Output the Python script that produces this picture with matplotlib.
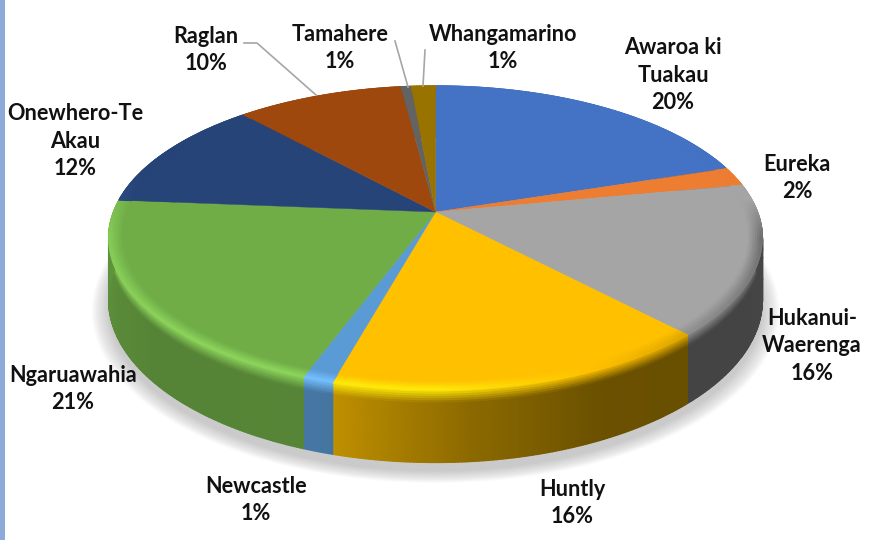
"""3D style pie of population share by ward."""
import numpy as np
import matplotlib
matplotlib.use('Agg')
import matplotlib.pyplot as plt
from matplotlib.collections import PolyCollection
from matplotlib.colors import to_rgb

names = ['Awaroa ki\nTuakau', 'Eureka', 'Hukanui-\nWaerenga', 'Huntly', 'Newcastle',
         'Ngaruawahia', 'Onewhero-Te\nAkau', 'Raglan', 'Tamahere', 'Whangamarino']
values = [20.0, 2.0, 16.0, 16.3, 1.3, 20.7, 12.0, 9.7, 0.6, 1.4]
colors = ['#4472C4', '#ED7D31', '#A5A5A5', '#FFC000', '#5B9BD5',
          '#70AD47', '#264478', '#9E480E', '#636363', '#997300']
label_x = [673, 797, 812, 572, 256, 73, 75, 206, 340, 503]
label_y = [75, 178, 346, 503, 500, 389, 141, 50, 48, 48]

CX, CY = 435.5, 212
A, B, K = 322, 147.6, 0.171
DEPTH = 60
BEVEL_R = 0.96
BEVEL_D = 11


def project(r, theta, depth=0.0):
    x = r * np.sin(theta)
    y = r * np.cos(theta)
    w = 1 / (1 + K * y)
    return CX + A * x * w, CY - B * y * w + depth * w


def side_shade(deg):
    return np.interp(deg, [0, 90, 140, 155, 175, 198, 230, 270, 300, 360],
                     [.42, .42, .41, .42, .55, .77, .76, .85, .8, .8])


def rim_light(deg):
    return np.interp(deg, [0, 85, 100, 140, 180, 220, 262, 285, 360],
                     [0, 0, -.35, -.12, .18, .18, .14, 0, 0])


def rim_color(base, deg):
    h = rim_light(deg)
    if h >= 0:
        return np.clip(base * (1 + h) + h * .2, 0, 1)
    return base * (1 + h)


def band_quads(theta, p0, p1):
    x0, y0 = p0
    x1, y1 = p1
    return [[(x0[i], y0[i]), (x0[i + 1], y0[i + 1]), (x1[i + 1], y1[i + 1]), (x1[i], y1[i])]
            for i in range(len(theta) - 1)]


fig = plt.figure(figsize=(8.74, 5.4), dpi=100)
ax = fig.add_axes([0, 0, 1, 1])
ax.set_xlim(0, 874)
ax.set_ylim(540, 0)
ax.axis('off')

ax.fill_between([0, 4.5], 0, 540, color='#8EAADB', lw=0)

# soft shadow under the pie
circle = np.linspace(0, 2 * np.pi, 361)
for grow in np.linspace(1.05, 1.0, 16):
    sx, sy = project(grow, circle, DEPTH + 4)
    ax.fill(sx, sy + 4, color='#7f7f7f', alpha=0.028, lw=0, zorder=1)

edges = np.cumsum([0] + values) / sum(values) * 2 * np.pi

# outer wall, the top covers the part that faces away
wall_steps = np.concatenate([np.linspace(0, BEVEL_D, 7), np.linspace(BEVEL_D + 8, DEPTH, 3)])
for start, end, colour in zip(edges[:-1], edges[1:], colors):
    base = np.array(to_rgb(colour))
    theta = np.linspace(start, end, max(3, int(np.degrees(end - start)) * 2))
    mid = np.degrees((theta[:-1] + theta[1:]) / 2)
    for d0, d1 in zip(wall_steps[:-1], wall_steps[1:]):
        quads = band_quads(theta, project(1, theta, d0), project(1, theta, d1))
        u = min(1, (d0 + d1) / 2 / BEVEL_D)
        face = [np.clip(rim_color(base, m) * (1 - u) + base * side_shade(m) * u, 0, 1) for m in mid]
        ax.add_collection(PolyCollection(quads, facecolors=face, edgecolors=face, linewidths=1.0, zorder=2))

# top face with rounded rim
rim_steps = np.linspace(BEVEL_R, 1, 7)
for start, end, colour in zip(edges[:-1], edges[1:], colors):
    base = np.array(to_rgb(colour))
    theta = np.linspace(start, end, max(3, int(np.degrees(end - start)) * 2))
    px, py = project(BEVEL_R, theta)
    ax.fill(np.r_[CX, px], np.r_[CY, py], color=colour, lw=0.3, zorder=3)
    mid = np.degrees((theta[:-1] + theta[1:]) / 2)
    for r0, r1 in zip(rim_steps[:-1], rim_steps[1:]):
        quads = band_quads(theta, project(r0, theta), project(r1, theta))
        u = ((r0 + r1) / 2 - BEVEL_R) / (1 - BEVEL_R)
        face = [np.clip(base * (1 - u) + rim_color(base, m) * u, 0, 1) for m in mid]
        ax.add_collection(PolyCollection(quads, facecolors=face, edgecolors=face, linewidths=0.8, zorder=3))

# leader lines for the small back slices
ax.plot([244, 257, 316], [43, 43, 95], color='#A6A6A6', lw=1.2, zorder=4)
ax.plot([395, 408], [41, 87], color='#A6A6A6', lw=1.2, zorder=4)
ax.plot([425, 423], [50, 86], color='#A6A6A6', lw=1.2, zorder=4)

for name, value, x, y in zip(names, values, label_x, label_y):
    ax.text(x, y, f'{name}\n{value:.0f}%', ha='center', va='center', family='Lato',
            weight='bold', fontsize=15.6, color='#111111', linespacing=1.4, zorder=5)

fig.savefig('out.png', dpi=100)
